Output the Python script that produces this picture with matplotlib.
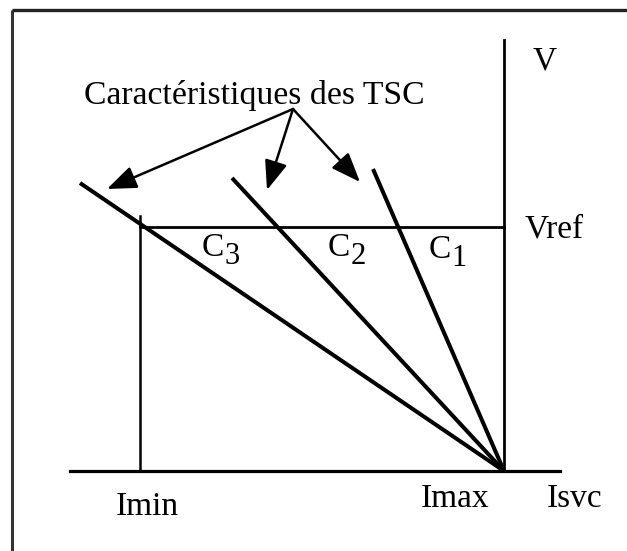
import matplotlib
matplotlib.use("Agg")
import matplotlib.pyplot as plt
from matplotlib.patches import FancyArrowPatch

plt.rcParams['font.family'] = ['Liberation Serif', 'DejaVu Serif']

# picture units: x to the right, y downward (like the scan)
imax_x = 504
axis_y = 471
imin_x = 140
vref_y = 227
v_top = 40
axis_left, axis_right = 70, 560

# TSC characteristics, all meet at (Imax, 0)
curve_names = ["1", "2", "3"]
curve_top_x = [373, 232, 80]
curve_top_y = [169, 178, 183]
label_x = [440, 339, 213]
label_y = [250, 248, 248]

# arrows from the caption
arrow_tail = (293, 109)
arrow_tip_x = [107, 267, 360]
arrow_tip_y = [189, 190, 182]

fig = plt.figure(figsize=(6.27, 5.51), dpi=100)
ax = fig.add_axes([0, 0, 1, 1])
ax.set_xlim(0, 627)
ax.set_ylim(551, 0)
ax.axis('off')

# frame of the scan
ax.plot([12, 12], [551, 10], color='#333333', lw=2.2, solid_capstyle='butt')
ax.plot([12, 627], [10, 10], color='#222222', lw=2.4, solid_capstyle='butt')

# axes
ax.plot([axis_left, axis_right], [axis_y, axis_y], color='black', lw=2.3)
ax.plot([imax_x, imax_x], [axis_y, v_top], color='black', lw=2.0)
ax.plot([imin_x, imax_x], [vref_y, vref_y], color='black', lw=2.0)
ax.plot([imin_x, imin_x], [axis_y, vref_y - 11], color='black', lw=1.8)

for tx, ty, name, lx, ly in zip(curve_top_x, curve_top_y, curve_names, label_x, label_y):
    ax.plot([tx, imax_x], [ty, axis_y], color='black', lw=2.9, solid_capstyle='butt')
    ax.text(lx, ly, "C", fontsize=24, ha='center', va='center')
    ax.text(lx + 19, ly + 9, name, fontsize=22, ha='center', va='center')

for hx, hy in zip(arrow_tip_x, arrow_tip_y):
    arr = FancyArrowPatch(arrow_tail, (hx, hy),
                          arrowstyle='-|>,head_length=18,head_width=7',
                          mutation_scale=1, lw=1.8, color='black',
                          shrinkA=0, shrinkB=0)
    ax.add_patch(arr)

ax.text(254, 104, "Caractéristiques des TSC", fontsize=24.3, ha='center', va='baseline')
ax.text(545, 70, "V", fontsize=24, ha='center', va='baseline')
ax.text(554, 237, "Vref", fontsize=24, ha='center', va='baseline')
ax.text(147, 515, "Imin", fontsize=24, ha='center', va='baseline')
ax.text(455, 507, "Imax", fontsize=24, ha='center', va='baseline')
ax.text(575, 507, "Isvc", fontsize=24, ha='center', va='baseline')

fig.savefig("out.png", dpi=100)
